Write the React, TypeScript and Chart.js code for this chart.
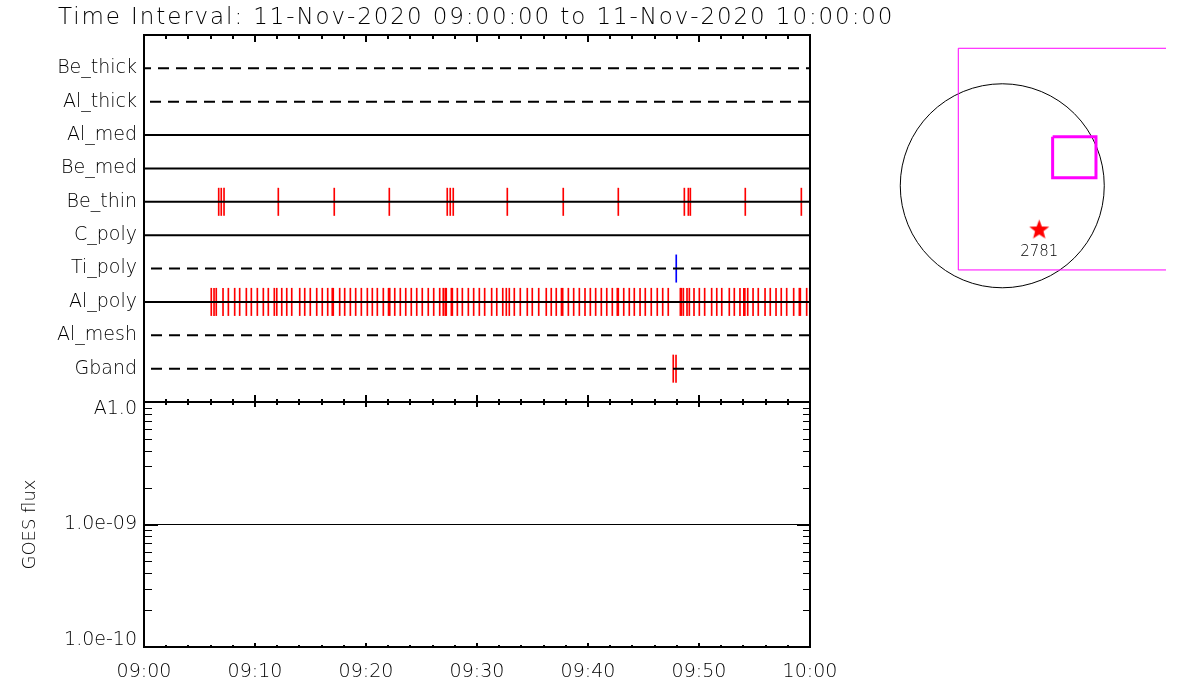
import React, { useEffect, useRef } from 'react';
import { Chart, registerables } from 'chart.js';

Chart.register(...registerables);

// ---------------- data ----------------
const TITLE_TEXT = 'Time Interval: 11-Nov-2020 09:00:00 to 11-Nov-2020 10:00:00';

// filter channels, top row first
const channelNames = ['Be_thick', 'Al_thick', 'Al_med', 'Be_med', 'Be_thin', 'C_poly', 'Ti_poly', 'Al_poly', 'Al_mesh', 'Gband'];
const channelDashed = [true, true, false, false, false, false, true, false, true, true];

// exposure times (minutes after 09:00)
const beThinTimes = [6.73, 6.96, 7.21, 12.10, 17.14, 22.10, 27.32, 27.59, 27.86, 32.73, 37.77, 42.73, 48.68, 49.04, 49.22, 54.17, 59.22];
const tiPolyTimes = [47.95];
const alPolyTimes = [
  6.06, 6.31, 6.51, 7.12, 7.60, 8.17, 8.62, 9.22, 9.67, 10.21, 10.75, 11.20, 11.74, 11.96, 12.41, 12.86,
  13.31, 14.03, 14.48, 14.98, 15.56, 16.06, 16.55, 16.96, 17.05, 17.63, 18.08, 18.59, 19.07, 19.58, 20.12,
  20.57, 21.02, 21.56, 22.03, 22.14, 22.59, 23.09, 23.58, 24.08, 24.57, 25.07, 25.61, 26.10, 26.64, 26.96,
  27.14, 27.23, 27.69, 27.78, 28.23, 28.68, 29.22, 29.70, 30.21, 30.69, 31.32, 31.78, 32.32, 32.64, 32.91,
  33.36, 33.90, 34.53, 34.98, 35.56, 36.24, 36.69, 37.14, 37.61, 37.72, 38.23, 38.71, 39.22, 39.73, 40.21,
  40.69, 41.20, 41.69, 42.19, 42.64, 42.73, 43.22, 43.72, 44.17, 44.69, 45.16, 45.70, 46.24, 46.73, 47.23,
  48.32, 48.41, 48.59, 48.92, 49.13, 49.55, 50.03, 50.51, 51.14, 51.60, 52.05, 52.73, 53.18, 53.69, 54.04,
  54.13, 54.39, 54.87, 55.34, 55.95, 56.42, 56.94, 57.41, 57.90, 58.53, 59.04, 59.13, 59.70,
];
const gbandTimes = [47.68, 47.93];

const timeTickMinutes = [0, 10, 20, 30, 40, 50, 60];
const timeTickLabels = ['09:00', '09:10', '09:20', '09:30', '09:40', '09:50', '10:00'];
const timeMinorMinutes = [2, 4, 6, 8, 12, 14, 16, 18, 22, 24, 26, 28, 32, 34, 36, 38, 42, 44, 46, 48, 52, 54, 56, 58];

const goesTimes = [0, 60];
const goesFlux = [1e-9, 1e-9];
const goesTickValues = [1e-10, 1e-9, 1e-8];
const goesTickLabels = ['1.0e-10', '1.0e-09', 'A1.0'];
const goesMinorValues = [2e-10, 3e-10, 4e-10, 5e-10, 6e-10, 7e-10, 8e-10, 9e-10, 2e-9, 3e-9, 4e-9, 5e-9, 6e-9, 7e-9, 8e-9, 9e-9];

// solar context map (arcsec)
const sunRadius = 960;
const fovCornersX = [-414, 1600, 1600, -414, -414];
const fovCornersY = [1294, 1294, -792, -792, 1294];
const roiCornersX = [474, 882, 882, 474, 474];
const roiCornersY = [462, 462, 76, 76, 462];
const arNumbers = ['2781'];
const arX = [348];
const arY = [-416];

// ---------------- styles ----------------
const FONT = 'DejaVu Sans';
const WEIGHT = '200';
const channelDashOffset = [4, 12, 0, 0, 0, 0, 11, 0, 11, 11];
const eventSeries = [
  { channel: 'Be_thin', times: beThinTimes, color: '#ff0000' },
  { channel: 'Ti_poly', times: tiPolyTimes, color: '#0000ff' },
  { channel: 'Al_poly', times: alPolyTimes, color: '#ff0000' },
  { channel: 'Gband', times: gbandTimes, color: '#ff0000' },
];

const rowOf = (name: string) => channelNames.length - channelNames.indexOf(name);

// ---------------- plugins ----------------
const idlFramePlugin = {
  id: 'idlFrame',
  afterDraw(chart: any, _args: any, o: any) {
    if (!o || !o.enabled) return;
    const { ctx, chartArea: a } = chart;
    const xs = chart.scales.x;
    const ys = chart.scales.y;
    ctx.save();
    ctx.strokeStyle = '#000';
    ctx.lineCap = 'butt';
    const seg = (x1: number, y1: number, x2: number, y2: number, w: number) => {
      ctx.lineWidth = w;
      ctx.beginPath();
      ctx.moveTo(x1, y1);
      ctx.lineTo(x2, y2);
      ctx.stroke();
    };
    const xTicks = (vals: number[], k: number) => {
      vals.forEach((v) => {
        const px = Math.round(xs.getPixelForValue(v));
        if (o.top) seg(px, a.top, px, a.top + o.top[k], 2);
        if (o.bottom) seg(px, a.bottom, px, a.bottom - o.bottom[k], 2);
      });
    };
    xTicks(o.xMajor || [], 0);
    xTicks(o.xMinor || [], 1);
    const yTicks = (vals: number[], k: number, w: number) => {
      vals.forEach((v) => {
        const py = Math.round(ys.getPixelForValue(v)) + (w === 1 ? 0.5 : 0);
        if (o.left) seg(a.left, py, a.left + o.left[k], py, w);
        if (o.right) seg(a.right, py, a.right - o.right[k], py, w);
      });
    };
    yTicks(o.yMajor || [], 0, 2);
    yTicks(o.yMinor || [], 1, 1);
    ctx.lineWidth = 2;
    ctx.strokeRect(a.left, a.top, a.right - a.left, a.bottom - a.top);
    ctx.restore();
  },
};

const titlePlugin = {
  id: 'idlTitle',
  afterDraw(chart: any, _args: any, o: any) {
    if (!o || !o.text) return;
    const ctx = chart.ctx;
    ctx.save();
    ctx.font = `${WEIGHT} ${o.size}px "${FONT}"`;
    (ctx as any).letterSpacing = o.spacing;
    ctx.fillStyle = '#000';
    ctx.textAlign = 'left';
    ctx.textBaseline = 'alphabetic';
    ctx.fillText(o.text, o.x, o.y);
    ctx.restore();
  },
};

const solarPlugin = {
  id: 'solarDisk',
  beforeDatasetsDraw(chart: any, _args: any, o: any) {
    const { ctx } = chart;
    const xs = chart.scales.x;
    const ys = chart.scales.y;
    const cx = xs.getPixelForValue(0);
    const cy = ys.getPixelForValue(0);
    const r = xs.getPixelForValue(o.radius) - cx;
    ctx.save();
    ctx.strokeStyle = '#000';
    ctx.lineWidth = 1;
    ctx.beginPath();
    ctx.arc(cx, cy, r, 0, Math.PI * 2);
    ctx.stroke();
    ctx.restore();
  },
  afterDatasetsDraw(chart: any, _args: any, o: any) {
    const { ctx } = chart;
    const xs = chart.scales.x;
    const ys = chart.scales.y;
    ctx.save();
    ctx.font = `${WEIGHT} 15px "${FONT}"`;
    ctx.fillStyle = '#000';
    ctx.textAlign = 'center';
    ctx.textBaseline = 'alphabetic';
    o.labels.forEach((t: string, i: number) => {
      ctx.fillText(t, xs.getPixelForValue(o.xs[i]), ys.getPixelForValue(o.ys[i]) + 26);
    });
    ctx.restore();
  },
};

function makeStar(r: number, color: string) {
  const c = document.createElement('canvas');
  const size = Math.ceil(r * 2 + 2);
  c.width = size;
  c.height = size;
  const g = c.getContext('2d')!;
  g.fillStyle = color;
  g.beginPath();
  for (let k = 0; k < 10; k++) {
    const rad = k % 2 === 0 ? r : r * 0.42;
    const ang = -Math.PI / 2 + (k * Math.PI) / 5;
    const px = size / 2 + rad * Math.cos(ang);
    const py = size / 2 + rad * Math.sin(ang);
    if (k === 0) g.moveTo(px, py);
    else g.lineTo(px, py);
  }
  g.closePath();
  g.fill();
  return c;
}

export default function App() {
  const upperRef = useRef<HTMLCanvasElement>(null);
  const lowerRef = useRef<HTMLCanvasElement>(null);
  const mapRef = useRef<HTMLCanvasElement>(null);

  useEffect(() => {
    const charts: Chart[] = [];

    // ---------- upper panel: exposure timeline ----------
    const upper = new Chart(upperRef.current!, {
      type: 'line',
      data: {
        datasets: [
          ...eventSeries.map((s) => ({
            type: 'bar' as const,
            label: s.channel + ' exposures',
            data: s.times.map((t) => ({ x: t, y: [rowOf(s.channel) - 0.41, rowOf(s.channel) + 0.41] })),
            backgroundColor: s.color,
            borderWidth: 0,
            barThickness: 1,
            grouped: false,
            order: 2,
          })),
          ...channelNames.map((name, i) => ({
            type: 'line' as const,
            label: name,
            data: [
              { x: 0, y: rowOf(name) },
              { x: 60, y: rowOf(name) },
            ],
            borderColor: '#000',
            borderWidth: 2,
            borderDash: channelDashed[i] ? [11, 7] : [],
            borderDashOffset: channelDashOffset[i],
            borderCapStyle: 'butt' as const,
            pointRadius: 0,
            fill: false,
            order: 1,
          })),
        ],
      } as any,
      options: {
        responsive: false,
        animation: false,
        layout: { autoPadding: false, padding: { top: 35, right: 390, bottom: 20, left: 0 } },
        plugins: {
          legend: { display: false },
          tooltip: { enabled: false },
          idlFrame: { enabled: true, xMajor: timeTickMinutes, xMinor: timeMinorMinutes, top: [7, 4], bottom: [7, 3] },
          idlTitle: { text: TITLE_TEXT, x: 58, y: 24, size: 23, spacing: '1.9px' },
        } as any,
        scales: {
          x: { type: 'linear', min: 0, max: 60, display: false, offset: false },
          y: {
            type: 'linear',
            min: 0,
            max: 11,
            grid: { display: false, drawTicks: false },
            border: { display: false },
            afterBuildTicks(s: any) {
              s.ticks = channelNames.map((_, i) => ({ value: channelNames.length - i }));
            },
            afterFit(s: any) {
              s.width = 144;
            },
            ticks: {
              autoSkip: false,
              padding: 7,
              color: '#000',
              font: { family: FONT, size: 19, weight: WEIGHT },
              callback: (v: any) => channelNames[channelNames.length - Number(v)],
            },
          },
        } as any,
      },
      plugins: [idlFramePlugin, titlePlugin],
    });
    charts.push(upper);

    // ---------- lower panel: GOES flux ----------
    const lastGoes = goesTickLabels.length - 1;
    const lower = new Chart(lowerRef.current!, {
      type: 'line',
      data: {
        datasets: [
          {
            label: 'GOES flux',
            data: goesTimes.map((t, i) => ({ x: t, y: goesFlux[i] })),
            borderColor: '#000',
            borderWidth: 1,
            pointRadius: 0,
            fill: false,
          },
        ],
      } as any,
      options: {
        responsive: false,
        animation: false,
        layout: { autoPadding: false, padding: { top: 22, right: 50, bottom: 0, left: 0 } },
        plugins: {
          legend: { display: false },
          tooltip: { enabled: false },
          idlFrame: {
            enabled: true,
            xMajor: timeTickMinutes,
            xMinor: timeMinorMinutes,
            top: [5, 3],
            bottom: [4, 2],
            yMajor: goesTickValues,
            yMinor: goesMinorValues,
            left: [14, 8],
            right: [13, 7],
          },
        } as any,
        scales: {
          x: {
            type: 'linear',
            min: 0,
            max: 60,
            offset: false,
            grid: { display: false, drawTicks: false },
            border: { display: false },
            afterBuildTicks(s: any) {
              s.ticks = timeTickMinutes.map((v) => ({ value: v }));
            },
            afterFit(s: any) {
              s.height = 53;
            },
            ticks: {
              autoSkip: false,
              maxRotation: 0,
              padding: 14,
              color: '#000',
              font: { family: FONT, size: 19, weight: WEIGHT },
              callback: (_v: any, i: number) => timeTickLabels[i],
            },
          },
          y: {
            type: 'logarithmic',
            min: 1e-10,
            max: 1e-8,
            grid: { display: false, drawTicks: false },
            border: { display: false },
            afterBuildTicks(s: any) {
              s.ticks = goesTickValues.map((v) => ({ value: v }));
            },
            afterFit(s: any) {
              s.width = 144;
            },
            ticks: {
              autoSkip: false,
              padding: 7,
              color: '#000',
              font: { family: FONT, size: 19, weight: WEIGHT, lineHeight: 0.74 },
              // IDL keeps the end labels inside the axis range
              callback: (_v: any, i: number) =>
                i === 0 ? [goesTickLabels[i], ''] : i === lastGoes ? ['', goesTickLabels[i]] : goesTickLabels[i],
            },
            title: {
              display: true,
              text: 'GOES flux',
              color: '#000',
              font: { family: FONT, size: 18, weight: WEIGHT },
              padding: { top: 20, bottom: 0 },
            },
          },
        } as any,
      },
      plugins: [idlFramePlugin],
    });
    charts.push(lower);

    // ---------- right panel: solar context ----------
    const star = makeStar(10.5, '#ff0000');
    const map = new Chart(mapRef.current!, {
      type: 'line',
      data: {
        datasets: [
          {
            label: 'Field of view',
            data: fovCornersX.map((x, i) => ({ x, y: fovCornersY[i] })),
            borderColor: '#ff00ff',
            borderWidth: 1,
            pointRadius: 0,
            fill: false,
          },
          {
            label: 'Region of interest',
            data: roiCornersX.map((x, i) => ({ x, y: roiCornersY[i] })),
            borderColor: '#ff00ff',
            borderWidth: 3,
            pointRadius: 0,
            fill: false,
          },
          {
            type: 'scatter',
            label: 'Active region',
            data: arX.map((x, i) => ({ x, y: arY[i] })),
            pointStyle: star,
            pointRadius: 11,
            showLine: false,
          },
        ],
      } as any,
      options: {
        responsive: false,
        animation: false,
        layout: { autoPadding: false, padding: 0 },
        plugins: {
          legend: { display: false },
          tooltip: { enabled: false },
          solarDisk: { radius: sunRadius, labels: arNumbers, xs: arX, ys: arY },
        } as any,
        scales: {
          x: { type: 'linear', min: -1339, max: 1541, display: false },
          y: { type: 'linear', min: -1263, max: 1560, display: false },
        },
      },
      plugins: [solarPlugin],
    });
    charts.push(map);

    return () => charts.forEach((c) => c.destroy());
  }, []);

  return (
    <div style={{ position: 'absolute', left: 0, top: 0, width: 1200, height: 700, background: '#fff', overflow: 'hidden' }}>
      <canvas ref={upperRef} width={1200} height={422} style={{ position: 'absolute', left: 0, top: 0 }} />
      <canvas ref={lowerRef} width={860} height={320} style={{ position: 'absolute', left: 0, top: 380 }} />
      <canvas ref={mapRef} width={306} height={300} style={{ position: 'absolute', left: 860, top: 20 }} />
    </div>
  );
}
